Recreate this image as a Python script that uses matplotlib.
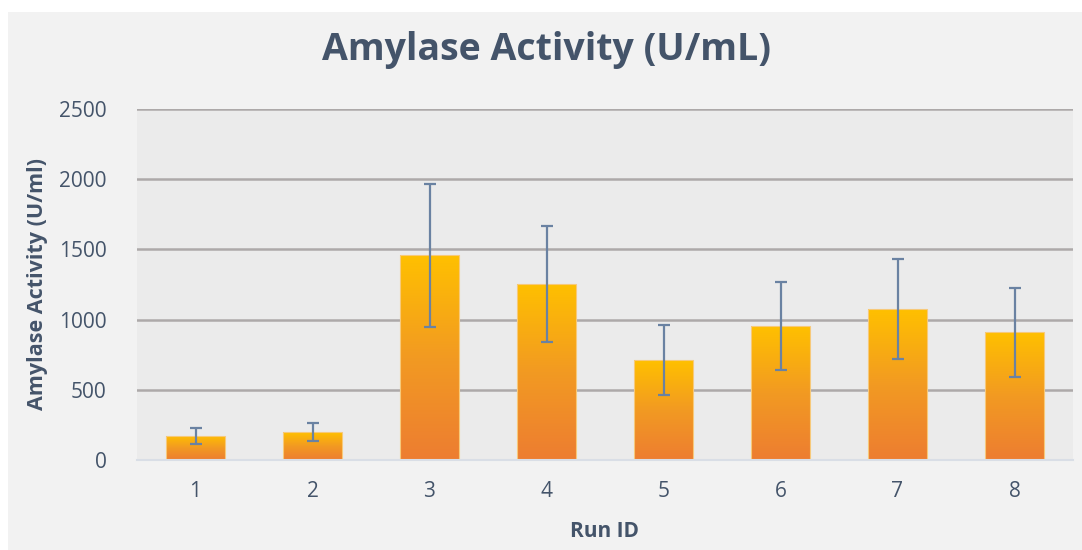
import matplotlib
matplotlib.use("Agg")
import matplotlib.pyplot as plt
from matplotlib.colors import LinearSegmentedColormap
from matplotlib.patches import Rectangle
import numpy as np

run_ids = ["1", "2", "3", "4", "5", "6", "7", "8"]
activity = [171, 197, 1458, 1254, 712, 954, 1073, 909]
errors = [55, 64, 510, 414, 248, 312, 356, 317]

text_col = "#44546A"
err_col = "#6A82A2"

plt.rcParams["font.family"] = ["Open Sans", "DejaVu Sans"]

fig = plt.figure(figsize=(10.82, 5.5), dpi=100)
fig.patch.set_facecolor("white")
# grey chart panel with white margin at top/left
fig.patches.append(Rectangle((8 / 1082, 0), 1, 1 - 12 / 550, transform=fig.transFigure,
                             facecolor="#F2F2F2", edgecolor="none", zorder=-10))

ax = fig.add_axes([137 / 1082, 1 - 460 / 550, 936 / 1082, 351 / 550])
ax.set_facecolor("#EBEBEB")

x = np.arange(len(run_ids))
bars = ax.bar(x, activity, width=0.5, color="none", edgecolor="none", zorder=2)

cmap = LinearSegmentedColormap.from_list("orng", ["#ED7D31", "#F29A22", "#FFC000"])
grad = np.linspace(0, 1, 256).reshape(-1, 1)
for b in bars:
    x0, y0 = b.get_x(), b.get_y()
    w, h = b.get_width(), b.get_height()
    im = ax.imshow(grad, cmap=cmap, origin="lower", aspect="auto",
                   extent=(x0, x0 + w, y0, y0 + h), zorder=2)
    im.set_clip_path(b)
    ax.add_patch(Rectangle((x0, y0), w, h, facecolor="none", edgecolor="#F7C97A",
                           linewidth=0.8, zorder=2.1))

ax.errorbar(x, activity, yerr=errors, fmt="none", ecolor=err_col, elinewidth=1.6,
            capsize=4.5, capthick=1.6, zorder=3)

ax.set_xlim(-0.5, len(run_ids) - 0.5)
ax.set_ylim(0, 2500)
ax.set_yticks(np.arange(0, 2501, 500))
ax.set_xticks(x)
ax.set_xticklabels(run_ids)
ax.yaxis.grid(True, color="#ADA9A9", linewidth=1.8, zorder=1)
ax.set_axisbelow(True)
for s in ["top", "right", "left"]:
    ax.spines[s].set_visible(False)
ax.spines["bottom"].set_color("#D9DEE6")
ax.spines["bottom"].set_linewidth(1.5)
ax.tick_params(axis="both", length=0, colors=text_col, labelsize=15)
ax.tick_params(axis="y", pad=22)
ax.tick_params(axis="x", pad=15)

ax.set_xlabel("Run ID", fontsize=15, fontweight="bold", color=text_col, labelpad=14)
ax.set_ylabel("Amylase Activity (U/ml)", fontsize=15.5, fontweight="bold", color=text_col, labelpad=8)
fig.text(546 / 1082, 1 - 50 / 550, "Amylase Activity (U/mL)", ha="center", va="center",
         fontsize=27, fontweight="bold", color=text_col)

fig.savefig("out.png", dpi=100, facecolor=fig.get_facecolor())
